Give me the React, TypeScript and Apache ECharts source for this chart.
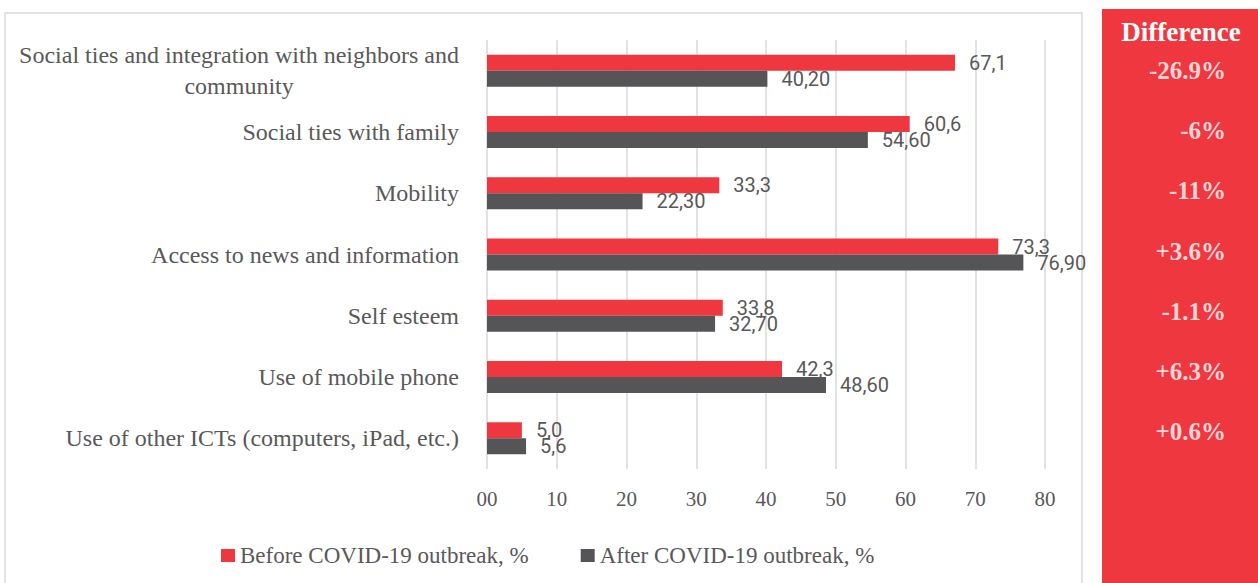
import React, { useEffect, useRef } from 'react';
import * as echarts from 'echarts';

const categories = [
  'Social ties and integration with neighbors and\ncommunity',
  'Social ties with family',
  'Mobility',
  'Access to news and information',
  'Self esteem',
  'Use of mobile phone',
  'Use of other ICTs (computers, iPad, etc.)',
];
const beforeValues = [67.1, 60.6, 33.3, 73.3, 33.8, 42.3, 5.0];
const afterValues = [40.2, 54.6, 22.3, 76.9, 32.7, 48.6, 5.6];
const beforeDecimals = [1, 1, 1, 1, 1, 1, 1];
const afterDecimals = [2, 2, 2, 2, 2, 2, 1];
const differences = ['-26.9%', '-6%', '-11%', '+3.6%', '-1.1%', '+6.3%', '+0.6%'];
const xTickValues = [0, 10, 20, 30, 40, 50, 60, 70, 80];
const seriesNames = ['Before COVID-19 outbreak, %', 'After COVID-19 outbreak, %'];
const differenceTitle = 'Difference';

const RED = '#EE373E';
const GRAY = '#555557';
const TEXT = '#595959';
const SERIF = '"Liberation Serif", "Times New Roman", serif';

const fmt = (v: number, d: number) => v.toFixed(d).replace('.', ',');

export default function App() {
  const ref = useRef<HTMLDivElement>(null);
  useEffect(() => {
    if (!ref.current) return;
    const chart = echarts.init(ref.current, null, { renderer: 'svg' });
    const option: any = {
      animation: false,
      backgroundColor: '#ffffff',
      legend: {
        data: seriesNames,
        left: 216,
        top: 539,
        icon: 'rect',
        itemWidth: 14,
        itemHeight: 13,
        itemGap: 52,
        textStyle: { fontFamily: SERIF, fontSize: 23, color: TEXT },
      },
      graphic: [
        {
          type: 'rect',
          z: 0,
          shape: { x: 5, y: 13, width: 1077, height: 600 },
          style: { fill: 'none', stroke: '#d9d9d9', lineWidth: 1.5 },
        },
        {
          type: 'rect',
          z: 0,
          shape: { x: 1102, y: 9, width: 160, height: 600 },
          style: { fill: RED },
        },
        {
          type: 'text',
          z: 5,
          x: 1181,
          y: 32,
          style: {
            text: differenceTitle,
            fill: '#ffffff',
            font: `bold 27px ${SERIF}`,
            align: 'center',
            verticalAlign: 'middle',
          },
        },
      ],
      grid: [
        { left: 487, top: 40, width: 558, height: 429, containLabel: false },
        { left: 1102, top: 40, width: 124, height: 422, containLabel: false },
      ],
      xAxis: [
        {
          gridIndex: 0,
          type: 'value',
          min: 0,
          max: 80,
          interval: 10,
          axisLine: { show: false },
          axisTick: { show: false },
          splitLine: { show: true, lineStyle: { color: '#d9d9d9', width: 1.5 } },
          axisLabel: {
            margin: 19,
            color: TEXT,
            fontFamily: SERIF,
            fontSize: 21,
            formatter: (v: number) => (xTickValues.includes(v) ? (v === 0 ? '00' : String(v)) : ''),
          },
        },
        { gridIndex: 1, type: 'value', min: 0, max: 1, show: false },
      ],
      yAxis: [
        {
          gridIndex: 0,
          type: 'category',
          data: categories,
          inverse: true,
          axisLine: { show: false },
          axisTick: { show: false },
          splitLine: { show: false },
          axisLabel: {
            margin: 28,
            color: TEXT,
            fontFamily: SERIF,
            fontSize: 24,
            lineHeight: 31,
            formatter: (v: string) => v.split('\n').map((l) => `{c|${l}}`).join('\n'),
            rich: {
              c: { align: 'center', color: TEXT, fontFamily: SERIF, fontSize: 24, lineHeight: 31 },
            },
          },
        },
        { gridIndex: 1, type: 'category', data: categories, inverse: true, show: false },
      ],
      series: [
        {
          name: seriesNames[0],
          type: 'bar',
          xAxisIndex: 0,
          yAxisIndex: 0,
          barWidth: 16,
          barGap: '0%',
          itemStyle: { color: RED },
          data: beforeValues,
          label: {
            show: true,
            position: 'right',
            distance: 14,
            color: TEXT,
            fontFamily: 'Roboto',
            fontSize: 20,
            formatter: (p: any) => fmt(beforeValues[p.dataIndex], beforeDecimals[p.dataIndex]),
          },
        },
        {
          name: seriesNames[1],
          type: 'bar',
          xAxisIndex: 0,
          yAxisIndex: 0,
          barWidth: 16,
          barGap: '0%',
          itemStyle: { color: GRAY },
          data: afterValues,
          label: {
            show: true,
            position: 'right',
            distance: 14,
            color: TEXT,
            fontFamily: 'Roboto',
            fontSize: 20,
            formatter: (p: any) => fmt(afterValues[p.dataIndex], afterDecimals[p.dataIndex]),
          },
        },
        {
          name: 'Difference',
          type: 'scatter',
          xAxisIndex: 1,
          yAxisIndex: 1,
          symbolSize: 0,
          z: 10,
          data: differences.map((_, i) => [1, i]),
          label: {
            show: true,
            position: 'left',
            distance: 0,
            color: '#ffffff',
            fontFamily: SERIF,
            fontWeight: 'bold',
            fontSize: 25,
            formatter: (p: any) => differences[p.dataIndex],
          },
        },
      ],
    };
    chart.setOption(option);
    return () => chart.dispose();
  }, []);
  return (
    <div
      ref={ref}
      style={{ position: 'fixed', left: 0, top: 0, width: 1258, height: 583, background: '#fff' }}
    />
  );
}
